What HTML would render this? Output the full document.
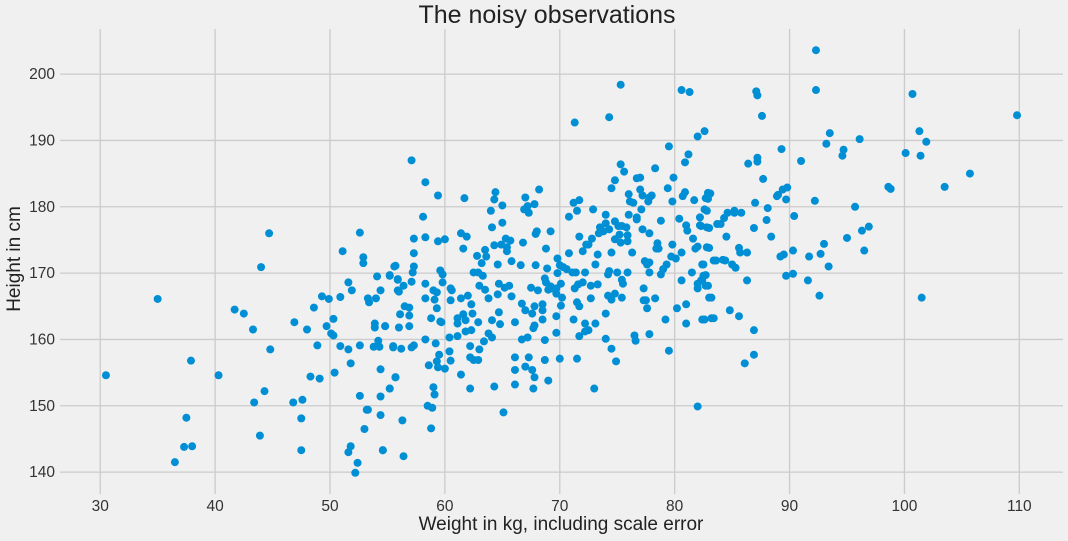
<!DOCTYPE html>
<html><head><meta charset="utf-8"><style>
html,body{margin:0;padding:0;background:#f0f0f0;}
svg{display:block;font-family:"Liberation Sans","DejaVu Sans",sans-serif;}
</style></head><body>
<svg id="chart" width="1068" height="541" xmlns="http://www.w3.org/2000/svg">
<rect width="1068" height="541" fill="#f0f0f0"/>
<g id="grid"></g>
<g id="ticks"></g>
<g id="pts"></g>
<text x="547" y="23" text-anchor="middle" font-size="25" fill="#222">The noisy observations</text>
<text x="561" y="530" text-anchor="middle" font-size="19" fill="#222">Weight in kg, including scale error</text>
<text transform="translate(20,259) rotate(-90)" text-anchor="middle" font-size="19" fill="#222">Height in cm</text>
</svg>
<script>
const xTicks=[30,40,50,60,70,80,90,100,110];
const yTicks=[140,150,160,170,180,190,200];
const weights=[30.5,35,36.5,37.3,37.5,37.9,38,40.3,41.7,42.5,43.3,43.4,43.9,44,44.3,44.8,46.8,46.9,47.5,47.5,47.6,48,48.3,48.6,48.9,49.1,49.3,49.7,49.9,50.1,50.3,50.3,50.4,50.9,50.9,51.1,51.6,51.6,51.6,51.8,51.9,51.8,52.2,52.4,52.6,52.6,52.9,52.9,53,53.2,53.3,53.3,53.4,53.8,53.9,53.9,54,54.1,54.2,54.3,54.4,54.4,54.4,54.4,54.6,54.8,55.2,55.2,55.5,55.7,55.7,55.9,55.9,44.7,52.6,
57.1,58.3,59.4,61.7,58.1,57.3,58.3,59.4,60,61.4,61.9,61.6,57.3,55.6,57.3,57.2,59.6,59.8,55.2,55.9,57.1,56.4,56,58.3,59.8,59,59.3,60.5,60.6,58.3,59.1,60.5,61.4,62,59.3,56.5,56.9,56.1,56.9,56.9,54.8,56,58.8,59.6,59.7,60.4,61.1,61.1,61.1,61.6,61.8,62.3,62.4,62.9,61.8,62.3,55.5,56.2,57.1,57.3,58.3,59.2,59.5,60.4,60.5,59.3,58.6,59.4,60,62.2,62.2,62.5,62.9,63,63.4,63.8,64.1,61.4,62.2,59,59.1,55.7,55.2,58.5,58.9,58.8,56.3,54.6,56.4,64.3,65.1,
62.8,63.6,63.2,63.5,62.5,62.9,63.3,63,63.5,63.8,64.6,64.3,64.9,65.3,65.7,65.4,65.4,65.8,66.6,66.8,64.1,64,64.3,64.4,65,65,64.7,65.2,65.6,65.8,64.6,64.7,64.1,64.8,66.1,66.7,67,67.5,67.6,67.8,68.1,68.5,68.5,68.5,67.8,67.7,66.7,67.2,68.7,66.1,67.3,68.7,67,67.6,67.8,66.1,66.1,67.7,69,70,69.7,69.7,70.1,70.2,70.1,69.7,69.7,69.2,69.3,69,68.7,68.8,68.9,67.9,68.8,69.2,67.9,68,67,66.9,67.2,67.3,67.8,68.2,
69.8,69.8,70,70.3,70.6,71.1,71.4,72.2,71.3,71.6,72,72.7,73.3,72.7,71.5,71.7,71.2,72.2,73.1,71.7,72.2,72.5,71.5,73,74,74.5,74.9,74,74.2,74.5,74.8,75.4,74.2,74.3,75,75.4,75.5,75.9,76.3,74.5,72,72.3,72.5,72.8,71.7,70.8,70.8,71.5,71.2,71.7,72.9,74,74,73.5,73.4,73.8,74.3,74.8,75.1,75.4,75.8,75.9,75.9,75.3,74.8,75.2,73.3,73.1,74.5,74.8,75.3,75.6,76,76.1,76.4,76,76.7,76.7,77.1,77.2,77.8,77,77.2,77.7,77.8,78,76.7,77,78.3,
78.5,78.4,78.6,78.8,77.4,77.6,77.8,77.8,78.8,79,79.3,79.7,80.1,79.8,80.6,80.4,81,81.1,80.9,81.2,82,79.5,79.9,79.4,79.8,80.7,80.9,81.7,82.6,82.7,82.9,82.2,82.2,82.8,81.6,81.8,82,82.8,82.4,81.5,80.6,82.5,82,82.3,82,82.7,83,81,80.2,79.2,81,82.4,83.2,83.4,83.7,79.5,82,77.3,77.3,77.5,77.6,78.3,76.5,76.6,77.8,71.3,74.3,75.3,80.6,81.3,
92.3,92.3,87.1,87.2,87.6,100.7,109.8,82.6,93.5,93.2,96.1,94.7,94.6,101.3,101.9,100.1,101.4,89.3,91,87.2,87.2,86.4,87.7,105.7,103.5,98.6,98.8,95.7,92.2,89.8,89.4,89,88.9,89.7,88.1,87,83.1,82.9,82.8,84.6,85.2,85.2,85.8,84.3,84,83,82.3,86.9,88,90.4,84.5,88.4,96.3,96.9,95,93,92.7,91.7,90.3,96.5,93.4,89.2,89.5,86.3,85.6,85.7,83,83.6,84.2,84.4,85,85.3,82.5,82.7,82.4,82.9,83.2,86.3,89.7,90.3,91.6,92.6,101.5,84.8,85.6,82.6,83.4,86.9,86.9,86.1];
const heights=[154.6,166.1,141.5,143.8,148.2,156.8,143.9,154.6,164.5,163.9,161.5,150.5,145.5,170.9,152.2,158.5,150.5,162.6,148.1,143.3,150.9,161.5,154.4,164.8,159.1,154.1,166.5,162,166.1,160.9,160.6,163.1,155,166.4,159,173.3,168.6,158.5,143,156.4,167.4,143.9,139.9,141.4,159.1,151.5,172.4,171.5,146.5,149.4,149.4,166.2,165.6,158.9,162.4,161.8,166.2,169.5,159.8,158.9,167.4,155.5,151.4,148.6,143.3,162,152.6,169.7,159,171.1,154.3,169.1,167.4,176,176.1,
187,183.7,181.7,181.3,178.5,175.2,175.4,174.8,175.1,176,175.5,173.7,173,171,171,170.1,170.4,169.8,169.6,169,168.7,168.1,167.2,168.4,168.6,167.4,167.1,167.7,167.4,166.2,166,165.9,166.2,166.6,164.7,165,164.8,163.8,163.6,162,162,161.8,163.2,162.7,162.6,160.3,160.5,163.2,162.4,163.8,162.9,165.3,163.9,162.6,161.2,161.4,158.8,158.6,158.8,159.1,160,159.4,157.7,158.2,156.8,156.7,156.1,155.8,155.6,159,157.3,156.9,156.9,158.5,159.7,160.9,160.3,154.7,152.6,152.8,151.7,154.3,152.6,150,149.7,146.6,147.8,143.3,142.4,152.9,149,
172.6,172.5,171.5,173.5,170.1,170.1,169.6,168.1,167.5,166.2,171.3,174.2,174.3,175.2,174.9,173.9,173.3,171.8,171.2,174.6,176.9,179.4,181.1,182.2,180.2,177.6,168.4,167.8,168.1,166.5,166.8,164.1,162.9,162.3,162.6,165.4,164.4,167.8,163.9,165,167.4,164.4,165.3,163,162.1,161.7,160,160.3,159.9,157.3,157.3,156.9,155.9,155.4,154.3,155.4,153.2,152.6,153.8,157.1,161,163.5,165.1,166.3,168.4,167.7,166.9,168,167.7,167.5,169.2,168.6,170.7,171.2,173.7,176.3,175.9,176.3,181.4,179.6,180.1,179.1,180.4,182.6,
172.2,170,171.2,170.9,170.6,170.1,170.1,170.1,167.7,168.3,168.6,168.1,168.3,166.2,165.6,165,163,162.4,162.4,160.5,161.2,161.4,157.1,152.6,160.1,158.6,156.7,163.9,166.6,166,166.9,166.3,169.8,170.3,170.1,169,168.4,170.1,173.1,173.1,173.3,174.3,174.3,175.2,175.5,173,178.5,179.4,180.6,181,179.6,178.8,177.5,176.9,176,176.3,176.6,177.8,177.1,177.1,176.9,175.7,174.8,174.6,175.1,175.8,172.8,171.3,182.8,184,186.4,185.3,181.9,180.8,180.6,178.8,178.1,178.4,179.6,176.6,176,182.6,181.7,180.8,181.4,181.7,184.3,184.4,185.8,
174.5,173.7,173.7,177.9,171.8,171.3,171.6,170.1,169.8,170.6,171.3,172.5,172.2,174.3,173.1,178.2,177.2,176.4,186.7,187.9,190.6,189.1,184.4,182.8,180.8,181.6,182.2,181,179.6,181.3,182.1,178.4,177.2,176.9,175.2,173.7,174,173.9,171.3,170.1,168.9,169.6,168.4,168.9,167.7,168.1,166.3,165.3,164.7,163,162.4,163,163.2,171.9,177.4,158.3,149.9,167.7,165.9,165.9,164.7,166.2,160.6,159.8,160.8,192.7,193.5,198.4,197.6,197.3,
203.6,197.6,197.4,196.8,193.7,197,193.8,191.4,191.1,189.5,190.2,188.6,187.7,191.4,189.8,188.1,187.7,188.7,186.9,187.4,186.8,186.5,184.2,185,183,183,182.7,180,180.9,182.9,182.6,181.8,181.6,181.1,179.8,180.6,182,181.2,179.4,179.1,179.4,179.1,179.1,178.3,177.4,176.8,177.1,176.8,178,178.6,175.5,175.5,176.4,177,175.3,174.4,172.9,172.5,173.4,173.4,171,172.5,172.8,173.1,173.8,173.1,173.8,171.9,172,171.9,171.3,170.8,171.3,169.7,168.9,168.1,166.3,168.9,169.6,169.9,168.9,166.6,166.3,164.4,163.5,163,163.2,161.4,157.7,156.4];

const X0=60,X1=1063,Y0=29,Y1=494,XMIN=26.5,XMAX=113.8,YMIN=136.7,YMAX=206.8;
function sx(v){return X0+(v-XMIN)/(XMAX-XMIN)*(X1-X0);}
function sy(v){return Y1-(v-YMIN)/(YMAX-YMIN)*(Y1-Y0);}
const NS='http://www.w3.org/2000/svg';
const grid=document.getElementById('grid'),ticks=document.getElementById('ticks'),pts=document.getElementById('pts');
function mk(tag,attrs,parent){const e=document.createElementNS(NS,tag);for(const k in attrs)e.setAttribute(k,attrs[k]);parent.appendChild(e);return e;}
xTicks.forEach(t=>{
  const l=mk('line',{x1:sx(t),x2:sx(t),y1:Y0,y2:Y1,stroke:'#cbcbcb','stroke-width':1.3},grid);
  
  
  const tx=mk('text',{x:sx(t),y:Y1+17,'text-anchor':'middle','font-size':15.5,fill:'#333'},ticks);
  tx.textContent=t;
  
  
});
yTicks.forEach(t=>{
  const l=mk('line',{x1:X0,x2:X1,y1:sy(t),y2:sy(t),stroke:'#cbcbcb','stroke-width':1.3},grid);
  
  
  const tx=mk('text',{x:X0-5,y:sy(t)+5,'text-anchor':'end','font-size':15.5,fill:'#333'},ticks);
  tx.textContent=t;
  
  
});
const n=Math.min(weights.length,heights.length);
for(let i=0;i<n;i++){
  const c=mk('circle',{cx:sx(weights[i]),cy:sy(heights[i]),r:4,fill:'#008fd5'},pts);
  
  
}
</script>
</body></html>
